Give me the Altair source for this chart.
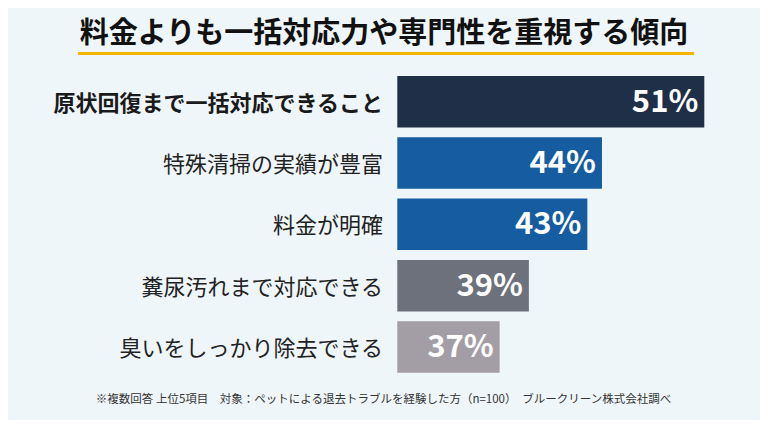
import altair as alt
import pandas as pd

categories = ["原状回復まで一括対応できること", "特殊清掃の実績が豊富", "料金が明確", "糞尿汚れまで対応できる", "臭いをしっかり除去できる"]
values = [51, 44, 43, 39, 37]
value_labels = ["51%", "44%", "43%", "39%", "37%"]
bold_flags = [True, False, False, False, False]
bar_colors = ["#1f2f48", "#165ca0", "#165ca0", "#6c717b", "#a39ea5"]
title_text = "料金よりも一括対応力や専門性を重視する傾向"
footnote_text = "※複数回答 上位5項目　対象：ペットによる退去トラブルを経験した方（n=100）　ブルークリーン株式会社調べ"

df = pd.DataFrame({"cat": categories, "val": values, "lab": value_labels, "bold": bold_flags})

FONT = "Noto Sans CJK JP"
W, H = 752, 412

xs = alt.Scale(domain=[30, 51], range=[389.3, 696.3], zero=False)
ys = alt.Scale(domain=categories, range=[68, 364.7], paddingInner=0.16, paddingOuter=0)

base = alt.Chart(df)

bars = base.mark_bar().encode(
    x=alt.X("val:Q", scale=xs, axis=None),
    x2=alt.datum(30),
    y=alt.Y("cat:N", scale=ys, axis=None, sort=categories),
    color=alt.Color("cat:N", scale=alt.Scale(domain=categories, range=bar_colors), legend=None),
)

vals = base.mark_text(align="right", baseline="middle", dx=-6, dy=1, fontSize=31, fontWeight="bold",
                      font=FONT, color="white").encode(
    x=alt.X("val:Q", scale=xs, axis=None),
    y=alt.Y("cat:N", scale=ys, axis=None, sort=categories),
    text="lab:N",
)

lab_bold = base.transform_filter("datum.bold").mark_text(
    align="right", baseline="middle", fontSize=22, fontWeight="bold", font=FONT, color="#1a1a1a", dy=2
).encode(
    x=alt.value(375),
    y=alt.Y("cat:N", scale=ys, axis=None, sort=categories),
    text="cat:N",
)

lab_norm = base.transform_filter("!datum.bold").mark_text(
    align="right", baseline="middle", fontSize=22, fontWeight="normal", font=FONT, color="#222222", dy=2
).encode(
    x=alt.value(375),
    y=alt.Y("cat:N", scale=ys, axis=None, sort=categories),
    text="cat:N",
)

title = alt.Chart(pd.DataFrame({"t": [title_text]})).mark_text(
    align="center", baseline="middle", fontSize=29, fontWeight="bold", font=FONT, color="#111111"
).encode(x=alt.value(376), y=alt.value(26), text="t:N")

underline = alt.Chart(pd.DataFrame({"t": [0]})).mark_rule(color="#f5b400", strokeWidth=3).encode(
    x=alt.value(70), x2=alt.value(686), y=alt.value(45.5)
)

foot = alt.Chart(pd.DataFrame({"t": [footnote_text]})).mark_text(
    align="center", baseline="middle", fontSize=11.5, font=FONT, color="#333333"
).encode(x=alt.value(375.5), y=alt.value(392), text="t:N")

chart = alt.layer(bars, vals, lab_bold, lab_norm, title, underline, foot).properties(
    width=W, height=H, autosize=alt.AutoSizeParams(type="none"), padding=0, background="#eff6fa"
).configure_view(strokeWidth=0)

chart.save("out.html", embed_options={"renderer": "svg", "actions": False})
